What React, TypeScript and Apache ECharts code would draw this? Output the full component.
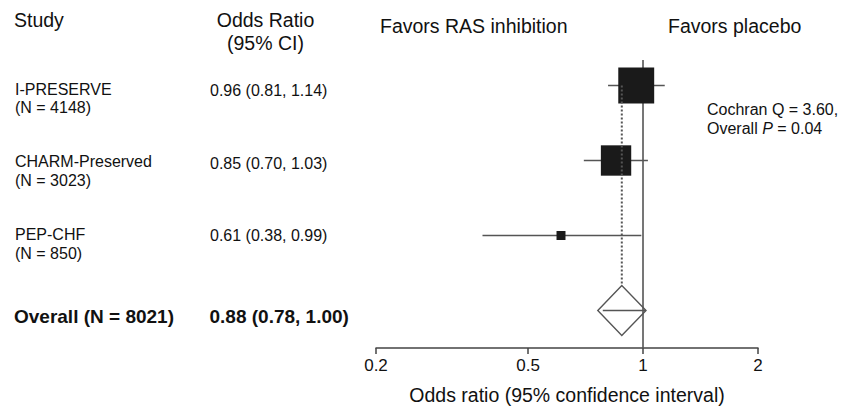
import React, { useEffect, useRef } from "react";
import * as echarts from "echarts";

// ---------- data ----------
const studyNames = ["I-PRESERVE", "CHARM-Preserved", "PEP-CHF"];
const studyN = [4148, 3023, 850];
const studyOR = [0.96, 0.85, 0.61];
const studyLo = [0.81, 0.7, 0.38];
const studyHi = [1.14, 1.03, 0.99];
const studyWeight = [56, 40, 3.5]; // relative weight (%), box area ∝ weight

const overallN = 8021;
const overallOR = 0.88;
const overallLo = 0.78;
const overallHi = 1.0;

const tickValues = [0.2, 0.5, 1, 2];
const tickLabels = ["0.2", "0.5", "1", "2"];

const cochranQ = "3.60";
const overallP = "0.04";

// ---------- helpers ----------
const FONT = "'Liberation Sans', Arial, Helvetica, sans-serif";
const L = (v: number) => Math.log10(v);
const fmt = (or: number, lo: number, hi: number) =>
  `${or.toFixed(2)} (${lo.toFixed(2)}, ${hi.toFixed(2)})`;

const TXT = "#111";
const LINE = "#555";

export default function App() {
  const ref = useRef<HTMLDivElement>(null);

  useEffect(() => {
    if (!ref.current) return;
    const chart = echarts.init(ref.current, undefined, { renderer: "svg" });

    const nameY = [89, 161.5, 234];
    const nY = [107, 180, 253];
    const orY = [90.5, 163, 235];

    const texts: any[] = [];
    const t = (x: number, y: number, text: string, size: number, opts: any = {}) =>
      texts.push({
        type: "text",
        x,
        y,
        silent: true,
        style: {
          text,
          fontFamily: FONT,
          fontSize: size,
          fontWeight: opts.bold ? "bold" : "normal",
          fill: TXT,
          textAlign: opts.align || "left",
          textVerticalAlign: "middle",
          rich: opts.rich,
        },
      });

    t(14, 20, "Study", 19.5);
    t(265.5, 19.5, "Odds Ratio", 19.5, { align: "center" });
    t(265.5, 42.5, "(95% CI)", 19.5, { align: "center" });
    t(380, 26, "Favors RAS inhibition", 19.5);
    t(668, 26, "Favors placebo", 19.5);

    studyNames.forEach((n, i) => {
      t(15, nameY[i], n, 16);
      t(15, nY[i], `(N = ${studyN[i]})`, 16);
      t(210, orY[i], fmt(studyOR[i], studyLo[i], studyHi[i]), 16);
    });
    t(14, 316, `Overall (N = ${overallN})`, 19, { bold: true });
    t(209.5, 316, fmt(overallOR, overallLo, overallHi), 19, { bold: true });

    t(707, 109, `Cochran Q = ${cochranQ},`, 16);
    t(707, 128, `Overall {i|P} = ${overallP}`, 16, {
      rich: { i: { fontStyle: "italic", fontFamily: FONT, fontSize: 16, fill: TXT } },
    });

    const studyData = studyNames.map((_, i) => [
      L(studyOR[i]),
      i + 1,
      L(studyLo[i]),
      L(studyHi[i]),
      studyWeight[i],
    ]);
    const overallRow = studyNames.length + 1;
    const diamondHalfH = 0.333;

    chart.setOption({
      animation: false,
      grid: { left: 376, right: 88, top: 48, bottom: 63 },
      xAxis: {
        type: "value",
        min: L(tickValues[0]),
        max: L(tickValues[tickValues.length - 1]),
        axisLine: { show: true, lineStyle: { color: "#444", width: 1.5 } },
        axisTick: {
          show: true,
          length: 6,
          customValues: tickValues.map(L),
          lineStyle: { color: "#444", width: 1.5 },
        },
        axisLabel: {
          customValues: tickValues.map(L),
          fontFamily: FONT,
          fontSize: 17,
          color: TXT,
          margin: 9,
          formatter: (v: number) => {
            let best = 0;
            tickValues.forEach((tv, k) => {
              if (Math.abs(L(tv) - v) < Math.abs(L(tickValues[best]) - v)) best = k;
            });
            return tickLabels[best];
          },
        },
        splitLine: { show: false },
        name: "Odds ratio (95% confidence interval)",
        nameLocation: "middle",
        nameGap: 37,
        nameTextStyle: { fontFamily: FONT, fontSize: 19.5, color: TXT },
      },
      yAxis: {
        type: "value",
        min: 0.5,
        max: 4.5,
        inverse: true,
        show: false,
      },
      graphic: texts,
      series: [
        {
          // reference line at OR = 1
          type: "custom",
          z: 1,
          data: [[L(1), 0.66, 4.5]],
          renderItem: (params: any, api: any) => {
            const a = api.coord([api.value(0), api.value(1)]);
            const b = api.coord([api.value(0), api.value(2)]);
            return {
              type: "line",
              shape: { x1: a[0], y1: a[1], x2: b[0], y2: b[1] },
              style: { stroke: LINE, lineWidth: 1.6 },
            };
          },
        },
        {
          // individual studies
          type: "custom",
          z: 2,
          data: studyData,
          renderItem: (params: any, api: any) => {
            const y = api.value(1);
            const c = api.coord([api.value(0), y]);
            const lo = api.coord([api.value(2), y]);
            const hi = api.coord([api.value(3), y]);
            const side = 4.8 * Math.sqrt(api.value(4));
            return {
              type: "group",
              children: [
                {
                  type: "line",
                  shape: { x1: lo[0], y1: lo[1], x2: hi[0], y2: hi[1] },
                  style: { stroke: LINE, lineWidth: 1.5 },
                },
                {
                  type: "rect",
                  shape: { x: c[0] - side / 2, y: c[1] - side / 2, width: side, height: side },
                  style: { fill: "#1a1a1a" },
                },
              ],
            };
          },
        },
        {
          // overall diamond
          type: "custom",
          z: 3,
          data: [[L(overallOR), overallRow, L(overallLo), L(overallHi)]],
          renderItem: (params: any, api: any) => {
            const y = api.value(1);
            const c = api.coord([api.value(0), y]);
            const lo = api.coord([api.value(2), y]);
            const hi = api.coord([api.value(3), y]);
            const top = api.coord([api.value(0), y - diamondHalfH]);
            const bot = api.coord([api.value(0), y + diamondHalfH]);
            return {
              type: "group",
              children: [
                {
                  type: "polygon",
                  shape: {
                    points: [
                      [lo[0] - 4, c[1]],
                      [top[0], top[1]],
                      [hi[0] + 3, c[1]],
                      [bot[0], bot[1]],
                    ],
                  },
                  style: { fill: "none", stroke: LINE, lineWidth: 1.4 },
                },
                {
                  type: "line",
                  shape: { x1: lo[0] + 1, y1: c[1], x2: hi[0] + 3, y2: c[1] },
                  style: { stroke: LINE, lineWidth: 1.4 },
                },
              ],
            };
          },
        },
        {
          // dotted line at overall estimate
          type: "custom",
          z: 4,
          data: [[L(overallOR), 1, overallRow - diamondHalfH]],
          renderItem: (params: any, api: any) => {
            const a = api.coord([api.value(0), api.value(1)]);
            const b = api.coord([api.value(0), api.value(2)]);
            return {
              type: "line",
              shape: { x1: a[0], y1: a[1], x2: b[0], y2: b[1] },
              style: { stroke: "#555", lineWidth: 2, lineDash: [2, 2] },
            };
          },
        },
      ],
    });

    return () => chart.dispose();
  }, []);

  return (
    <div
      ref={ref}
      style={{ position: "fixed", left: 0, top: 0, width: 846, height: 411, background: "#fff" }}
    />
  );
}
